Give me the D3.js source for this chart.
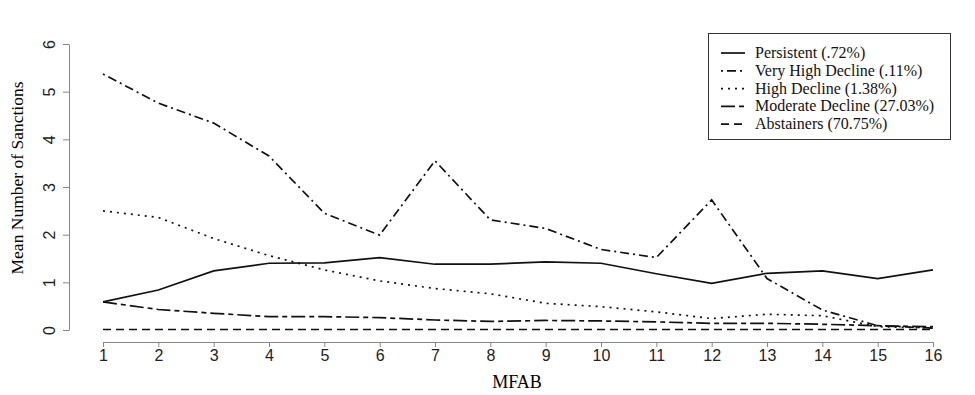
<!DOCTYPE html>
<html>
<head>
<meta charset="utf-8">
<script src="https://cdn.jsdelivr.net/npm/d3@7"></script>
<style>
  body { margin: 0; background: #fff; }
  .tick text { font-family: "Liberation Sans", Arial, sans-serif; font-size: 16px; fill: #222; }
  .axis path, .axis line { stroke: #888; }
</style>
</head>
<body>
<svg id="chart"></svg>
<script>
// waves of MFAB 1..16
var waves = d3.range(1, 17);
var yTicks = [0, 1, 2, 3, 4, 5, 6];

var persistent = [0.59, 0.84, 1.24, 1.40, 1.41, 1.52, 1.38, 1.38, 1.43, 1.40, 1.18, 0.98, 1.19, 1.24, 1.08, 1.26];
var veryHigh = [5.37, 4.76, 4.34, 3.65, 2.45, 1.99, 3.55, 2.31, 2.13, 1.69, 1.52, 2.73, 1.08, 0.42, 0.09, 0.04];
var highDecl = [2.50, 2.36, 1.92, 1.56, 1.26, 1.03, 0.87, 0.76, 0.56, 0.49, 0.38, 0.24, 0.33, 0.30, 0.07, 0.04];
var moderate = [0.59, 0.43, 0.35, 0.28, 0.28, 0.26, 0.21, 0.18, 0.20, 0.19, 0.17, 0.14, 0.14, 0.12, 0.09, 0.07];
var abstainers = [0.01, 0.01, 0.01, 0.01, 0.01, 0.01, 0.01, 0.01, 0.01, 0.01, 0.01, 0.01, 0.01, 0.01, 0.01, 0.01];

var seriesNames = ["Persistent (.72%)", "Very High Decline (.11%)", "High Decline (1.38%)",
  "Moderate Decline (27.03%)", "Abstainers (70.75%)"];
var dashes = [null, "2,4,9,4", "2,5", "14,4,5,4", "8,5"];

var W = 975, H = 395;
var svg = d3.select("#chart").attr("width", W).attr("height", H);

var x = d3.scaleLinear().domain([1, 16]).range([103, 933]);
var y = d3.scaleLinear().domain([0, 6]).range([330, 44]);

// x axis
var xAxis = d3.axisBottom(x).tickValues(waves).tickSize(5).tickSizeOuter(0).tickPadding(3);
svg.append("g").attr("class", "axis")
  .attr("transform", "translate(0,342)")
  .call(xAxis);

// y axis, labels rotated like R default
var yAxis = d3.axisLeft(y).tickValues(yTicks).tickSize(6).tickSizeOuter(0)
  .tickFormat(d3.format("d"));
var yg = svg.append("g").attr("class", "axis")
  .attr("transform", "translate(69,0)")
  .call(yAxis);
yg.selectAll(".tick text")
  .attr("x", null).attr("dy", null)
  .attr("text-anchor", "middle")
  .attr("transform", "translate(-14,0) rotate(-90)");

svg.append("text")
  .attr("x", 517).attr("y", 388)
  .attr("text-anchor", "middle")
  .style("font-family", "'Liberation Serif', 'Times New Roman', serif")
  .style("font-size", "18px")
  .text("MFAB");

svg.append("text")
  .attr("transform", "translate(23,178) rotate(-90)")
  .attr("text-anchor", "middle")
  .style("font-family", "'Liberation Serif', 'Times New Roman', serif")
  .style("font-size", "17.5px")
  .text("Mean Number of Sanctions");

var allSeries = [persistent, veryHigh, highDecl, moderate, abstainers];
var line = d3.line()
  .x(function(d, i) { return x(waves[i]); })
  .y(function(d) { return y(d); });

allSeries.forEach(function(s, k) {
  svg.append("path")
    .datum(s)
    .attr("d", line)
    .attr("fill", "none")
    .attr("stroke", "#111")
    .attr("stroke-width", 1.7)
    .attr("stroke-dasharray", dashes[k]);
});

// legend
var lg = svg.append("g");
lg.append("rect")
  .attr("x", 708.5).attr("y", 33.5)
  .attr("width", 242).attr("height", 106)
  .attr("fill", "#fff").attr("stroke", "#333").attr("stroke-width", 1);

seriesNames.forEach(function(name, k) {
  var yy = 53 + k * 17.8;
  lg.append("line")
    .attr("x1", 721).attr("x2", 745)
    .attr("y1", yy).attr("y2", yy)
    .attr("stroke", "#111").attr("stroke-width", 1.7)
    .attr("stroke-dasharray", dashes[k]);
  lg.append("text")
    .attr("x", 755).attr("y", yy + 5)
    .style("font-family", "'Liberation Serif', 'Times New Roman', serif")
    .style("font-size", "16px")
    .style("fill", "#111")
    .text(name);
});
</script>
</body>
</html>
